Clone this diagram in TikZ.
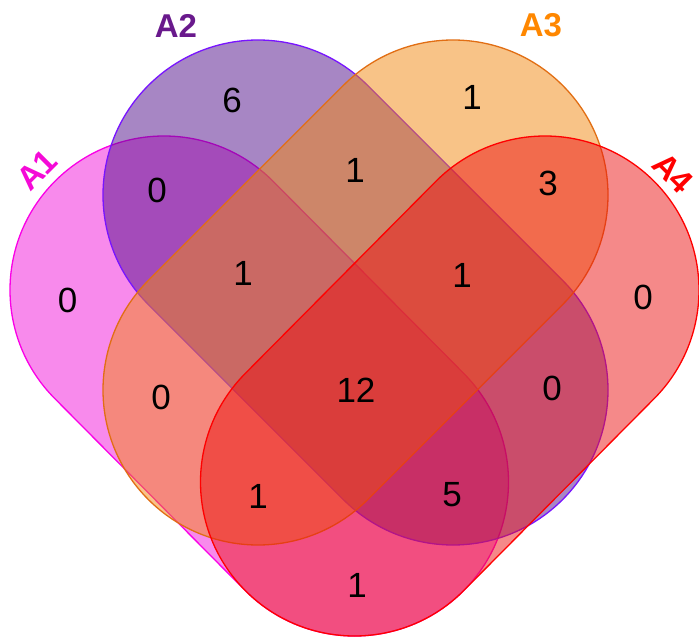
\documentclass[tikz,border=0pt]{standalone}
\usepackage{fontspec}
\setmainfont{Liberation Sans}
\usetikzlibrary{calc}
\definecolor{aonefill}{RGB}{242,22,218}
\definecolor{atwofill}{RGB}{80,14,138}
\definecolor{athreefill}{RGB}{242,135,15}
\definecolor{afourfill}{RGB}{236,20,20}
\definecolor{aoneline}{RGB}{250,0,230}
\definecolor{atwoline}{RGB}{120,20,255}
\definecolor{athreeline}{RGB}{225,110,20}
\definecolor{afourline}{RGB}{255,0,0}
\definecolor{aonelab}{RGB}{245,10,215}
\definecolor{atwolab}{RGB}{105,25,140}
\definecolor{athreelab}{RGB}{255,135,0}
\definecolor{afourlab}{RGB}{255,0,0}
\newcommand{\vennstadium}[5]{%
  \path[#5] (#1) ++(#3+90:#4) arc[start angle=#3+90, end angle=#3+270, radius=#4]
    -- ($(#2)+(#3-90:#4)$) arc[start angle=#3-90, end angle=#3+90, radius=#4] -- cycle;}
\tikzset{
  num/.style={font=\fontsize{35}{35}\selectfont, text=black, inner sep=0pt},
  setlab/.style={font=\fontsize{33}{33}\selectfont\bfseries, inner sep=0pt},
  setshape/.style={fill opacity=0.5, line width=1.3pt}
}
\begin{document}
\begin{tikzpicture}[x=1pt,y=1pt]
\useasboundingbox (0,0) rectangle (699,641);
\coordinate (p1) at (164,351);
\coordinate (q1) at (354.5,159);
\coordinate (p2) at (258,446);
\coordinate (q2) at (453,251);
\coordinate (p3) at (453,446);
\coordinate (q3) at (258,251);
\coordinate (p4) at (545,351);
\coordinate (q4) at (354.5,159);
\vennstadium{p1}{q1}{-45}{154pt}{setshape, fill=aonefill, draw=aoneline}
\vennstadium{p2}{q2}{-45}{155pt}{setshape, fill=atwofill, draw=atwoline}
\vennstadium{p3}{q3}{225}{155pt}{setshape, fill=athreefill, draw=athreeline}
\vennstadium{p4}{q4}{225}{154pt}{setshape, fill=afourfill, draw=afourline}
% set labels
\node[setlab, text=aonelab, rotate=45] (l1) at (37,471) {A1};
\node[setlab, text=atwolab] (l2) at (176,615.5) {A2};
\node[setlab, text=athreelab] (l3) at (541,615.5) {A3};
\node[setlab, text=afourlab, rotate=-45] (l4) at (673,468) {A4};
% counts
\node[num] (n2) at (232,541) {6};
\node[num] (n12) at (157,451) {0};
\node[num] (n1) at (67.5,341) {0};
\node[num] (n23) at (355,471) {1};
\node[num] (n3) at (472,544) {1};
\node[num] (n34) at (548,458) {3};
\node[num] (n4) at (643,344) {0};
\node[num] (n123) at (243,368) {1};
\node[num] (n234) at (462,366) {1};
\node[num] (n1234) at (356,251) {12};
\node[num] (n13) at (161,244) {0};
\node[num] (n24) at (552,253) {0};
\node[num] (n134) at (258,145) {1};
\node[num] (n124) at (452,146) {5};
\node[num] (n14) at (357,56) {1};
\end{tikzpicture}
\end{document}
